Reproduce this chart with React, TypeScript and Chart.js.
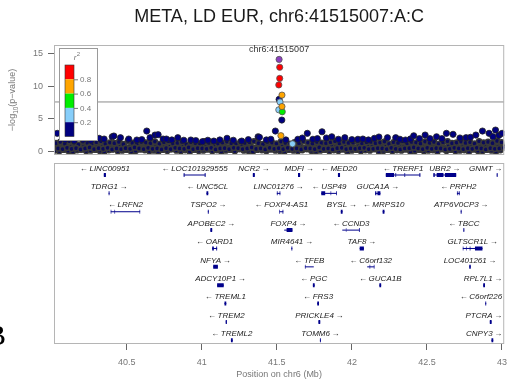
import React, { useEffect, useRef } from 'react';
import { Chart, registerables } from 'chart.js';

Chart.register(...registerables);

// ---------- data ----------
const X_MIN = 40.015;
const X_MAX = 43.015;
const xTicks = [40.5, 41, 41.5, 42, 42.5, 43];
const yTicks = [0, 5, 10, 15];
const sigLine = 7.6;

const titleText = 'META, LD EUR, chr6:41515007:A:C';
const leadName = 'chr6:41515007';
const leadPos = 41.515007;
const leadLogP = 14.1;

const snpRed = [[41.519, 12.9], [41.519, 11.2], [41.513, 10.2]];
const snpOrange = [[41.534, 8.65], [41.534, 6.9], [41.527, 2.45]];
const snpGreen = [[41.536, 6.1]];
const snpLightBlue = [[41.521, 7.6], [41.513, 6.4], [41.604, 1.2]];
const snpNavy = [
  [40.037, 2.81], [40.09, 1.85], [40.15, 1.7], [40.21, 1.9], [40.26, 1.75], [40.316, 2.05], [40.349, 1.94],
  [40.403, 2.29], [40.414, 2.4], [40.458, 2.14], [40.513, 1.94], [40.567, 1.79], [40.6, 1.85], [40.633, 3.16],
  [40.655, 2.14], [40.688, 2.55], [40.709, 2.6], [40.742, 1.94], [40.764, 1.94], [40.8, 1.8], [40.84, 2.14],
  [40.88, 1.75], [40.927, 1.79], [40.96, 1.7], [41.004, 1.53], [41.04, 1.75], [41.08, 1.63], [41.12, 1.8],
  [41.168, 2.05], [41.21, 1.75], [41.266, 1.63], [41.31, 1.85], [41.375, 2.29], [41.384, 2.2], [41.43, 1.8],
  [41.46, 1.9], [41.49, 3.16], [41.533, 4.84], [41.515, 8.0], [41.56, 1.8], [41.64, 1.9], [41.67, 2.1],
  [41.703, 2.81], [41.74, 1.9], [41.77, 2.0], [41.801, 3.05], [41.83, 2.1], [41.866, 2.29], [41.91, 1.9],
  [41.953, 2.14], [42.0, 1.85], [42.04, 1.9], [42.073, 1.94], [42.11, 1.8], [42.15, 2.05], [42.18, 2.25],
  [42.237, 2.14], [42.292, 2.14], [42.32, 1.9], [42.357, 1.79], [42.39, 1.95], [42.412, 2.44], [42.45, 2.0],
  [42.488, 2.55], [42.52, 2.0], [42.564, 2.29], [42.6, 2.0], [42.63, 2.81], [42.674, 2.66], [42.72, 2.1],
  [42.761, 2.14], [42.79, 2.2], [42.826, 2.55], [42.87, 3.16], [42.914, 2.81], [42.94, 2.3], [42.957, 3.31],
  [42.98, 2.5], [43.001, 2.81],
];

// dense background band of weak SNPs
const bandStartMb = 40.02;
const bandStepMb = 0.03;
const bandRowOffsets = [0, 0.015, 0.0075, 0.0225];
const bandLow = [
  0.2, 0.1, 0.3, 0.15, 0.05, 0.25, 0.35, 0.1, 0.2, 0.3,
  0.15, 0.05, 0.25, 0.4, 0.1, 0.2, 0.3, 0.05, 0.15, 0.35,
  0.25, 0.1, 0.2, 0.05, 0.3, 0.15, 0.4, 0.2, 0.1, 0.25,
  0.05, 0.3, 0.15, 0.2, 0.35, 0.1, 0.25, 0.05, 0.2, 0.3,
  0.1, 0.4, 0.2, 0.15, 0.05, 0.3, 0.25, 0.1, 0.35, 0.2,
  0.15, 0.05, 0.3, 0.2, 0.1, 0.25, 0.4, 0.15, 0.05, 0.2,
  0.3, 0.1, 0.25, 0.15, 0.35, 0.05, 0.2, 0.3, 0.1, 0.25,
  0.2, 0.4, 0.05, 0.15, 0.3, 0.1, 0.25, 0.2, 0.35, 0.05,
  0.15, 0.3, 0.1, 0.2, 0.25, 0.05, 0.4, 0.15, 0.3, 0.1,
  0.2, 0.25, 0.05, 0.35, 0.15, 0.1, 0.3, 0.2, 0.05, 0.25,
];
const bandMid = [
  0.8, 0.6, 0.9, 0.7, 1.0, 0.65, 0.85, 0.75, 0.55, 0.95,
  0.7, 0.9, 0.6, 0.8, 1.05, 0.75, 0.65, 0.9, 0.85, 0.6,
  0.95, 0.7, 0.8, 0.6, 0.9, 0.75, 1.0, 0.65, 0.85, 0.7,
  0.6, 0.8, 0.95, 0.7, 0.65, 0.9, 0.75, 1.0, 0.6, 0.85,
  0.7, 0.9, 0.65, 0.8, 0.55, 1.0, 0.75, 0.85, 0.6, 0.95,
  0.8, 0.65, 0.9, 0.7, 1.05, 0.6, 0.85, 0.75, 0.95, 0.7,
  0.6, 0.9, 0.8, 0.65, 1.0, 0.75, 0.55, 0.85, 0.7, 0.95,
  0.8, 0.6, 0.9, 0.75, 0.65, 1.0, 0.85, 0.7, 0.6, 0.9,
  0.75, 0.95, 0.65, 0.8, 0.7, 1.05, 0.6, 0.85, 0.9, 0.7,
  0.65, 0.8, 0.95, 0.6, 0.75, 0.9, 0.7, 1.0, 0.8, 0.85,
];
const bandHigh = [
  1.3, 1.5, 1.2, 1.6, 1.4, 1.1, 1.55, 1.35, 1.25, 1.45,
  1.6, 1.2, 1.4, 1.3, 1.5, 1.15, 1.65, 1.35, 1.25, 1.5,
  1.4, 1.3, 1.55, 1.2, 1.45, 1.6, 1.25, 1.35, 1.5, 1.1,
  1.45, 1.3, 1.2, 1.6, 1.35, 1.5, 1.25, 1.4, 1.55, 1.3,
  1.2, 1.5, 1.35, 1.45, 1.6, 1.3, 1.15, 1.5, 1.4, 1.25,
  1.55, 1.35, 1.2, 1.45, 1.3, 1.6, 1.4, 1.25, 1.5, 1.35,
  1.3, 1.45, 1.6, 1.2, 1.5, 1.35, 1.4, 1.65, 1.25, 1.45,
  1.5, 1.3, 1.4, 1.55, 1.2, 1.45, 1.35, 1.6, 1.3, 1.5,
  1.4, 1.25, 1.55, 1.35, 1.5, 1.2, 1.45, 1.6, 1.3, 1.4,
  1.55, 1.35, 1.45, 1.25, 1.6, 1.4, 1.5, 1.3, 1.65, 1.45,
];
const bandLowMid = [
  0.5, 0.4, 0.6, 0.45, 0.55, 0.35, 0.5, 0.65, 0.4, 0.55,
  0.45, 0.6, 0.35, 0.5, 0.4, 0.55, 0.45, 0.65, 0.5, 0.4,
  0.6, 0.45, 0.5, 0.35, 0.55, 0.4, 0.6, 0.5, 0.45, 0.65,
  0.4, 0.55, 0.5, 0.45, 0.6, 0.35, 0.5, 0.55, 0.4, 0.6,
  0.55, 0.4, 0.5, 0.65, 0.45, 0.5, 0.35, 0.6, 0.45, 0.55,
  0.4, 0.6, 0.45, 0.5, 0.35, 0.55, 0.5, 0.4, 0.65, 0.45,
  0.5, 0.35, 0.55, 0.6, 0.4, 0.5, 0.45, 0.55, 0.6, 0.4,
  0.45, 0.55, 0.5, 0.4, 0.6, 0.45, 0.35, 0.5, 0.55, 0.65,
  0.5, 0.4, 0.6, 0.45, 0.55, 0.5, 0.35, 0.45, 0.6, 0.5,
  0.4, 0.55, 0.45, 0.6, 0.5, 0.35, 0.55, 0.45, 0.5, 0.6,
];

// LD legend
const ldLabels = ['0.8', '0.6', '0.4', '0.2'];
const ldColors = ['#FF0000', '#FFA500', '#00EE00', '#87CEFA', '#000080'];
const leadColor = '#8B3FBF';

// genes
const geneNames = [
  'LINC00951', 'LOC101929555', 'NCR2', 'MDFI', 'MED20', 'TRERF1', 'UBR2', 'GNMT',
  'TDRG1', 'UNC5CL', 'LINC01276', 'USP49', 'GUCA1A', 'PRPH2',
  'LRFN2', 'TSPO2', 'FOXP4-AS1', 'BYSL', 'MRPS10', 'ATP6V0CP3',
  'APOBEC2', 'FOXP4', 'CCND3', 'TBCC',
  'OARD1', 'MIR4641', 'TAF8', 'GLTSCR1L',
  'NFYA', 'TFEB', 'C6orf132', 'LOC401261',
  'ADCY10P1', 'PGC', 'GUCA1B', 'RPL7L1',
  'TREML1', 'FRS3', 'C6orf226',
  'TREM2', 'PRICKLE4', 'PTCRA',
  'TREML2', 'TOMM6', 'CNPY3',
];
const geneStarts = [
  40.347, 40.879, 41.340, 41.641, 41.907, 42.226, 42.543, 42.965,
  40.379, 41.031, 41.500, 41.796, 42.155, 42.700,
  40.393, 41.040, 41.517, 41.926, 42.205, 42.725,
  41.057, 41.549, 41.936, 42.743,
  41.069, 41.597, 42.052, 42.739,
  41.076, 41.687, 42.102, 42.782,
  41.102, 41.740, 42.183, 42.875,
  41.151, 41.769, 42.889,
  41.159, 41.777, 42.919,
  41.194, 41.787, 42.930,
];
const geneEnds = [
  40.361, 41.025, 41.353, 41.655, 41.921, 42.456, 42.695, 42.971,
  40.385, 41.043, 41.523, 41.899, 42.190, 42.718,
  40.589, 41.046, 41.543, 41.938, 42.217, 42.731,
  41.069, 41.604, 42.052, 42.749,
  41.102, 41.603, 42.080, 42.870,
  41.107, 41.746, 42.150, 42.792,
  41.146, 41.752, 42.195, 42.887,
  41.163, 41.781, 42.895,
  41.167, 41.789, 42.931,
  41.206, 41.793, 42.942,
];
const geneRows = [
  1, 1, 1, 1, 1, 1, 1, 1,
  2, 2, 2, 2, 2, 2,
  3, 3, 3, 3, 3, 3,
  4, 4, 4, 4,
  5, 5, 5, 5,
  6, 6, 6, 6,
  7, 7, 7, 7,
  8, 8, 8,
  9, 9, 9,
  10, 10, 10,
];
const geneStrands = [
  '-', '-', '+', '+', '-', '-', '+', '+',
  '+', '-', '+', '-', '+', '-',
  '-', '+', '-', '+', '-', '+',
  '+', '+', '-', '-',
  '-', '+', '+', '+',
  '+', '-', '-', '+',
  '+', '-', '-', '+',
  '-', '-', '-',
  '-', '+', '+',
  '-', '+', '+',
];
const geneExons = [
  [[40.347, 40.361]], [[40.879, 40.885], [41.019, 41.025]], [[41.340, 41.353]], [[41.641, 41.655]],
  [[41.907, 41.921]], [[42.226, 42.281], [42.290, 42.295], [42.350, 42.355], [42.450, 42.456]],
  [[42.543, 42.552], [42.565, 42.610], [42.620, 42.695]], [[42.965, 42.971]],
  [[40.379, 40.385]], [[41.031, 41.043]], [[41.500, 41.505], [41.518, 41.523]],
  [[41.796, 41.822], [41.858, 41.862], [41.894, 41.899]], [[42.155, 42.163], [42.170, 42.190]],
  [[42.700, 42.705], [42.712, 42.718]],
  [[40.393, 40.397], [40.418, 40.422], [40.585, 40.589]], [[41.040, 41.046]],
  [[41.517, 41.521], [41.538, 41.543]], [[41.926, 41.938]], [[42.205, 42.217]], [[42.725, 42.731]],
  [[41.057, 41.069]], [[41.549, 41.553], [41.565, 41.604]],
  [[41.936, 41.940], [41.960, 41.963], [42.047, 42.052]], [[42.743, 42.749]],
  [[41.069, 41.080], [41.096, 41.102]], [[41.597, 41.603]], [[42.052, 42.080]],
  [[42.739, 42.743], [42.760, 42.764], [42.785, 42.790], [42.820, 42.870]],
  [[41.076, 41.107]], [[41.687, 41.691], [41.742, 41.746]],
  [[42.102, 42.106], [42.118, 42.122], [42.146, 42.150]], [[42.782, 42.792]],
  [[41.102, 41.146]], [[41.740, 41.752]], [[42.183, 42.195]], [[42.875, 42.887]],
  [[41.151, 41.163]], [[41.769, 41.781]], [[42.889, 42.895]],
  [[41.159, 41.167]], [[41.777, 41.789]], [[42.919, 42.931]],
  [[41.194, 41.206]], [[41.787, 41.793]], [[42.930, 42.942]],
];

// ---------- helpers ----------
const toPts = (arr: number[][]) => arr.map(([p, v]) => ({ x: p, y: v }));

const SANS = '"Liberation Sans", Arial, Helvetica, sans-serif';
const GRAY = '#777777';
const GENE_COLOR = '#00008B';

function buildBand() {
  const rows = [bandLow, bandMid, bandHigh, bandLowMid];
  const pts: { x: number; y: number }[] = [];
  rows.forEach((row, r) => {
    row.forEach((v, i) => {
      pts.push({ x: bandStartMb + bandRowOffsets[r] + i * bandStepMb, y: v });
    });
  });
  return pts;
}

function buildGeneBodies() {
  const pts: { x: number; y: number | null }[] = [];
  geneNames.forEach((_, i) => {
    pts.push({ x: geneStarts[i], y: geneRows[i] });
    pts.push({ x: geneEnds[i], y: geneRows[i] });
    pts.push({ x: geneEnds[i], y: null });
  });
  return pts;
}

function buildExons() {
  const pts: { x: number; y: number | null }[] = [];
  geneExons.forEach((exons, i) => {
    exons.forEach(([s, e]) => {
      pts.push({ x: s, y: geneRows[i] });
      pts.push({ x: e, y: geneRows[i] });
      pts.push({ x: e, y: null });
    });
  });
  return pts;
}

const decorPlugin = {
  id: 'locusDecor',
  afterDatasetsDraw(chart: any) {
    const { ctx, chartArea: a, scales } = chart;
    const xs = scales.x;
    const ys = scales.y;
    const yg = scales.yg;
    ctx.save();

    // panel frames
    ctx.strokeStyle = '#b5b5b5';
    ctx.lineWidth = 1;
    ctx.strokeRect(a.left + 0.5, ys.top + 0.5, a.right - a.left - 1, ys.bottom - ys.top - 1);
    const gTop = ys.bottom + 8;
    ctx.strokeRect(a.left + 0.5, gTop + 0.5, a.right - a.left - 1, a.bottom - gTop - 1);

    // title
    const cx = (a.left + a.right) / 2;
    ctx.fillStyle = '#1a1a1a';
    ctx.font = `18px ${SANS}`;
    ctx.textAlign = 'center';
    ctx.textBaseline = 'middle';
    ctx.fillText(titleText, cx, 17);

    // lead SNP label
    ctx.fillStyle = '#333';
    ctx.font = `9px ${SANS}`;
    ctx.fillText(leadName, xs.getPixelForValue(leadPos), ys.top + 4.5);

    // y axis title  -log10(p-value)
    ctx.save();
    ctx.translate(13, (ys.top + ys.bottom) / 2);
    ctx.rotate(-Math.PI / 2);
    ctx.fillStyle = GRAY;
    ctx.textAlign = 'left';
    ctx.textBaseline = 'middle';
    const big = `9px ${SANS}`;
    const small = `6.5px ${SANS}`;
    ctx.font = big;
    const w1 = ctx.measureText('\u2212log').width;
    const w3 = ctx.measureText('(p\u2212value)').width;
    ctx.font = small;
    const w2 = ctx.measureText('10').width;
    let tx = -(w1 + w2 + w3) / 2;
    ctx.font = big;
    ctx.fillText('\u2212log', tx, 0);
    tx += w1;
    ctx.font = small;
    ctx.fillText('10', tx, 3);
    tx += w2;
    ctx.font = big;
    ctx.fillText('(p\u2212value)', tx, 0);
    ctx.restore();

    // x axis title
    ctx.fillStyle = GRAY;
    ctx.font = `9px ${SANS}`;
    ctx.textAlign = 'center';
    ctx.textBaseline = 'middle';
    ctx.fillText('Position on chr6 (Mb)', cx, 375);

    // LD legend
    const lx = a.left + 5;
    const ly = ys.top + 3;
    ctx.fillStyle = '#ffffff';
    ctx.fillRect(lx, ly, 38, 92);
    ctx.strokeStyle = '#9a9a9a';
    ctx.strokeRect(lx + 0.5, ly + 0.5, 38, 92);
    ctx.fillStyle = GRAY;
    ctx.font = `italic 8px ${SANS}`;
    ctx.textAlign = 'center';
    ctx.fillText('r', lx + 16, ly + 10);
    ctx.font = `6px ${SANS}`;
    ctx.fillText('2', lx + 19.5, ly + 6);
    const barX = lx + 6;
    const barTop = ly + 17;
    const segH = 14.3;
    ldColors.forEach((c, i) => {
      ctx.fillStyle = c;
      ctx.fillRect(barX, barTop + i * segH, 9, segH);
    });
    ctx.strokeStyle = '#333';
    ctx.lineWidth = 0.6;
    ctx.strokeRect(barX, barTop, 9, segH * ldColors.length);
    ctx.lineWidth = 1;
    ctx.strokeStyle = GRAY;
    ctx.fillStyle = GRAY;
    ctx.font = `8px ${SANS}`;
    ctx.textAlign = 'left';
    ldLabels.forEach((lab, i) => {
      const yy = barTop + (i + 1) * segH;
      ctx.beginPath();
      ctx.moveTo(barX + 9, yy + 0.5);
      ctx.lineTo(barX + 13, yy + 0.5);
      ctx.stroke();
      ctx.fillText(lab, barX + 15, yy + 0.5);
    });

    // gene labels
    ctx.fillStyle = '#222';
    ctx.font = `italic 8px ${SANS}`;
    ctx.textAlign = 'center';
    ctx.textBaseline = 'middle';
    geneNames.forEach((name, i) => {
      const text = geneStrands[i] === '-' ? '\u2190\u2009' + name : name + '\u2009\u2192';
      const w = ctx.measureText(text).width;
      let gx = xs.getPixelForValue((geneStarts[i] + geneEnds[i]) / 2);
      gx = Math.min(Math.max(gx, a.left + 2 + w / 2), a.right - 2 - w / 2);
      const gy = yg.getPixelForValue(geneRows[i]) - 6.5;
      ctx.fillText(text, gx, gy);
    });

    // panel letter (cut at the page edge)
    ctx.fillStyle = '#000';
    ctx.font = '30px "Liberation Serif", "Times New Roman", serif';
    ctx.textAlign = 'left';
    ctx.textBaseline = 'alphabetic';
    ctx.fillText('B', -14, 345);

    ctx.restore();
  },
};

export default function App() {
  const canvasRef = useRef<HTMLCanvasElement | null>(null);

  useEffect(() => {
    const canvas = canvasRef.current;
    if (!canvas) return;

    const pointBase = {
      type: 'scatter' as const,
      xAxisID: 'x',
      yAxisID: 'y',
      borderWidth: 0.8,
      pointRadius: 3.1,
      borderColor: '#555',
    };

    const chart = new Chart(canvas, {
      type: 'scatter',
      data: {
        datasets: [
          { ...pointBase, label: 'lead', data: [{ x: leadPos, y: leadLogP }], backgroundColor: leadColor, pointBackgroundColor: leadColor, order: 0 } as any,
          { ...pointBase, label: 'r2 0.8-1', data: toPts(snpRed), backgroundColor: ldColors[0], pointBackgroundColor: ldColors[0], order: 1 } as any,
          { ...pointBase, label: 'r2 0.6-0.8', data: toPts(snpOrange), backgroundColor: ldColors[1], pointBackgroundColor: ldColors[1], order: 2 } as any,
          { ...pointBase, label: 'r2 0.4-0.6', data: toPts(snpGreen), backgroundColor: ldColors[2], pointBackgroundColor: ldColors[2], order: 3 } as any,
          { ...pointBase, label: 'r2 0.2-0.4', data: toPts(snpLightBlue), backgroundColor: ldColors[3], pointBackgroundColor: ldColors[3], order: 4 } as any,
          { ...pointBase, label: 'r2 0-0.2', data: toPts(snpNavy), backgroundColor: ldColors[4], pointBackgroundColor: ldColors[4], borderColor: '#222', order: 5 } as any,
          { ...pointBase, label: 'band', data: buildBand(), backgroundColor: '#0a0a5a', pointBackgroundColor: '#0a0a5a', borderColor: '#383838', borderWidth: 1.5, pointRadius: 2.6, order: 6 } as any,
          {
            type: 'line', label: 'significance', data: [{ x: X_MIN, y: sigLine }, { x: X_MAX, y: sigLine }],
            borderColor: '#8a8a8a', borderWidth: 1, pointRadius: 0, xAxisID: 'x', yAxisID: 'y', order: 7,
          } as any,
          {
            type: 'line', label: 'genes', data: buildGeneBodies(), borderColor: GENE_COLOR, borderWidth: 1,
            pointRadius: 0, spanGaps: false, xAxisID: 'x', yAxisID: 'yg', order: 9,
          } as any,
          {
            type: 'line', label: 'exons', data: buildExons(), borderColor: GENE_COLOR, borderWidth: 4,
            pointRadius: 0, spanGaps: false, borderCapStyle: 'butt', xAxisID: 'x', yAxisID: 'yg', order: 8,
          } as any,
        ],
      },
      options: {
        animation: false,
        responsive: false,
        devicePixelRatio: 1,
        events: [],
        layout: { padding: { top: 45, right: 2, left: 0, bottom: 0 } },
        plugins: { legend: { display: false }, tooltip: { enabled: false }, title: { display: false } },
        scales: {
          x: {
            type: 'linear',
            position: 'bottom',
            min: X_MIN,
            max: X_MAX,
            afterBuildTicks: (s: any) => { s.ticks = xTicks.map((v) => ({ value: v })); },
            afterFit: (s: any) => { s.height = 37; },
            ticks: {
              color: GRAY, font: { size: 9, family: SANS }, padding: 7, maxRotation: 0, autoSkip: false,
              callback: (v: any) => String(v),
            },
            grid: { drawOnChartArea: false, drawTicks: true, tickLength: 6, color: '#666' },
            border: { display: false },
          },
          yg: {
            type: 'linear',
            position: 'left',
            stack: 'panels',
            stackWeight: 189,
            weight: 1,
            reverse: true,
            min: -0.089,
            max: 10.2,
            afterFit: (s: any) => { s.width = 54; },
            ticks: { display: false },
            grid: { display: false },
            border: { display: false },
          },
          y: {
            type: 'linear',
            position: 'left',
            stack: 'panels',
            stackWeight: 110,
            weight: 2,
            min: -0.5,
            max: 16.3,
            afterBuildTicks: (s: any) => { s.ticks = yTicks.map((v) => ({ value: v })); },
            afterFit: (s: any) => { s.width = 54; },
            ticks: { color: GRAY, font: { size: 9, family: SANS }, padding: 5, callback: (v: any) => String(v) },
            grid: { drawOnChartArea: false, drawTicks: true, tickLength: 6, color: '#666' },
            border: { display: false },
          },
        },
      } as any,
      plugins: [decorPlugin as any],
    });

    return () => chart.destroy();
  }, []);

  return (
    <div style={{ position: 'fixed', left: 0, top: 0, width: 514, height: 381, background: '#fff' }}>
      <canvas ref={canvasRef} width={514} height={381} style={{ display: 'block', width: 514, height: 381 }} />
    </div>
  );
}
